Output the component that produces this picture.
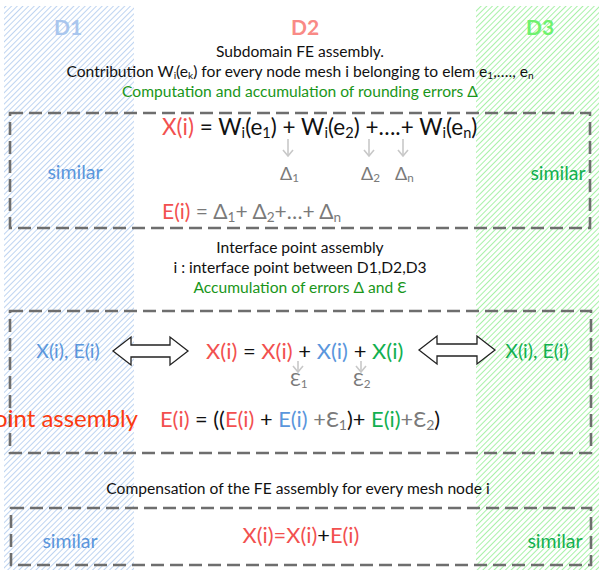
import React from "react";

const RED = "#f2504f";
const BLUE = "#5a96dc";
const GREEN = "#12b050";
const DKGREEN = "#1a961a";
const BLACK = "#111";
const GREY = "#7a7a7a";

type Seg = { t: string; c?: string; sub?: boolean };

const headerLabels = [
  { t: "D1", x: 68, c: "#a9c6ee" },
  { t: "D2", x: 305, c: "#f98a86" },
  { t: "D3", x: 540, c: "#6ef26e" },
];

const section1: Seg[][] = [
  [{ t: "Subdomain FE assembly." }],
  [{ t: "Contribution W" }, { t: "i", sub: true }, { t: "(e" }, { t: "k", sub: true }, { t: ") for every node mesh i belonging to elem e" }, { t: "1", sub: true }, { t: ",…., e" }, { t: "n", sub: true }],
  [{ t: "Computation and accumulation of rounding errors Δ", c: DKGREEN }],
];
const section2: Seg[][] = [
  [{ t: "Interface point assembly" }],
  [{ t: "i : interface point between D1,D2,D3" }],
  [{ t: "Accumulation of errors  Δ and Ɛ", c: DKGREEN }],
];
const section3: Seg[][] = [[{ t: "Compensation of the FE assembly for every mesh node i" }]];

const eqX1: Seg[] = [
  { t: "X(i)", c: RED }, { t: " = W" }, { t: "i", sub: true }, { t: "(e" }, { t: "1", sub: true }, { t: ") + W" }, { t: "i", sub: true }, { t: "(e" }, { t: "2", sub: true }, { t: ") +….+ W" }, { t: "i", sub: true }, { t: "(e" }, { t: "n", sub: true }, { t: ")" },
];
const eqE1: Seg[] = [
  { t: "E(i)", c: RED }, { t: " = Δ", c: GREY }, { t: "1", c: GREY, sub: true }, { t: "+ Δ", c: GREY }, { t: "2", c: GREY, sub: true }, { t: "+…+ Δ", c: GREY }, { t: "n", c: GREY, sub: true },
];
const deltas = [
  { s: "1", x: 288 },
  { s: "2", x: 369 },
  { s: "n", x: 403 },
];
const eqX2: Seg[] = [
  { t: "X(i)", c: RED }, { t: " = " }, { t: "X(i)", c: RED }, { t: " + " }, { t: "X(i)", c: BLUE }, { t: " + " }, { t: "X(i)", c: GREEN },
];
const eqE2: Seg[] = [
  { t: "E(i)", c: RED }, { t: " = ((" }, { t: "E(i)", c: RED }, { t: " + " }, { t: "E(i)", c: BLUE }, { t: " +Ɛ", c: GREY }, { t: "1", c: GREY, sub: true }, { t: ")+ " }, { t: "E(i)", c: GREEN }, { t: "+Ɛ", c: GREY }, { t: "2", c: GREY, sub: true }, { t: ")" },
];
const epsilons = [
  { s: "1", x: 298 },
  { s: "2", x: 361 },
];
const eqX3: Seg[] = [{ t: "X(i)=X(i)", c: RED }, { t: "+" }, { t: "E(i)", c: RED }];

function Rich({ segs, x, y, size, anchor = "start", fill = BLACK }: { segs: Seg[]; x: number; y: number; size: number; anchor?: string; fill?: string }) {
  const out: React.ReactNode[] = [];
  let shifted = false;
  const sh = Math.round(size * 0.12);
  segs.forEach((s, i) => {
    let dy = 0;
    if (s.sub && !shifted) { dy = sh; shifted = true; }
    else if (!s.sub && shifted) { dy = -sh; shifted = false; }
    out.push(
      <tspan key={i} dy={dy || undefined} fill={s.c || fill} fontSize={s.sub ? size * 0.65 : size}>
        {s.t}
      </tspan>
    );
  });
  return (
    <text x={x} y={y} textAnchor={anchor as any} fontSize={size}>
      {out}
    </text>
  );
}

function DoubleArrow({ x1, x2, y }: { x1: number; x2: number; y: number }) {
  const hw = 14, sw = 6, hl = 18;
  const d = `M${x1},${y} L${x1 + hl},${y - hw} L${x1 + hl},${y - sw} L${x2 - hl},${y - sw} L${x2 - hl},${y - hw} L${x2},${y} L${x2 - hl},${y + hw} L${x2 - hl},${y + sw} L${x1 + hl},${y + sw} L${x1 + hl},${y + hw} Z`;
  return <path d={d} fill="#fff" stroke="#222" strokeWidth={1.3} strokeLinejoin="miter" />;
}

function DownArrow({ x, y1, y2 }: { x: number; y1: number; y2: number }) {
  return (
    <g stroke="#c8c8c8" strokeWidth={1.6} fill="none">
      <line x1={x} y1={y1} x2={x} y2={y2} />
      <polyline points={`${x - 5},${y2 - 6} ${x},${y2} ${x + 5},${y2 - 6}`} />
    </g>
  );
}

export default function App() {
  const W = 599, H = 570;
  const boxes = [
    { x: 10, y: 113, w: 580, h: 115 },
    { x: 10, y: 311, w: 581, h: 142 },
    { x: 11, y: 508, w: 580, h: 57 },
  ];
  const font = "Lato, 'Open Sans', sans-serif";
  return (
    <svg width={W} height={H} style={{ position: "absolute", left: 0, top: 0, fontFamily: font }}>
      <defs>
        <pattern id="hb" width="4" height="4" patternUnits="userSpaceOnUse" patternTransform="rotate(45)">
          <rect width="4" height="4" fill="#ffffff" />
          <line x1="0" y1="0" x2="0" y2="4" stroke="#aecaee" strokeWidth="1.6" />
        </pattern>
        <pattern id="hg" width="4" height="4" patternUnits="userSpaceOnUse" patternTransform="rotate(45)">
          <rect width="4" height="4" fill="#ffffff" />
          <line x1="0" y1="0" x2="0" y2="4" stroke="#9ef09e" strokeWidth="1.8" />
        </pattern>
      </defs>
      <rect x={0} y={0} width={W} height={H} fill="#fff" />
      <rect x={4} y={6} width={130} height={564} fill="url(#hb)" />
      <rect x={476} y={6} width={123} height={564} fill="url(#hg)" />

      {headerLabels.map((h) => (
        <text key={h.t} x={h.x} y={35} textAnchor="middle" fontWeight="bold" fontSize={21} fill={h.c}>
          {h.t}
        </text>
      ))}

      {section1.map((s, i) => (
        <Rich key={i} segs={s} x={300} y={57 + i * 20} size={15.6} anchor="middle" />
      ))}
      {section2.map((s, i) => (
        <Rich key={i} segs={s} x={300} y={253 + i * 20} size={15.6} anchor="middle" />
      ))}
      {section3.map((s, i) => (
        <Rich key={i} segs={s} x={298} y={494} size={15.6} anchor="middle" />
      ))}

      {boxes.map((b, i) => (
        <rect key={i} x={b.x} y={b.y} width={b.w} height={b.h} fill="none" stroke="#6e6e6e" strokeWidth={2.6} strokeDasharray="13 6" />
      ))}

      {/* Box 1 */}
      <Rich segs={eqX1} x={162} y={135} size={22.5} />
      {deltas.map((d) => (
        <DownArrow key={d.s} x={d.x} y1={139} y2={156} />
      ))}
      {deltas.map((d) => (
        <Rich key={d.s} segs={[{ t: "Δ" }, { t: d.s, sub: true }]} x={d.x - 8} y={180} size={18} fill={GREY} />
      ))}
      <Rich segs={eqE1} x={162} y={219} size={21} />
      <text x={75} y={179} textAnchor="middle" fontSize={19.5} fill={BLUE}>similar</text>
      <text x={558} y={180} textAnchor="middle" fontSize={19.5} fill={GREEN}>similar</text>

      {/* Box 2 */}
      <text x={68} y={358} textAnchor="middle" fontSize={19.5} fill={BLUE}>X(i), E(i)</text>
      <DoubleArrow x1={113} x2={188} y={351} />
      <Rich segs={eqX2} x={206} y={359} size={22} />
      {epsilons.map((e) => (
        <DownArrow key={e.s} x={e.x} y1={361} y2={372} />
      ))}
      {epsilons.map((e) => (
        <Rich key={e.s} segs={[{ t: "Ɛ" }, { t: e.s, sub: true }]} x={e.x - 8} y={386} size={18} fill={GREY} />
      ))}
      <DoubleArrow x1={419} x2={495} y={350} />
      <text x={537} y={358} textAnchor="middle" fontSize={19.5} fill={GREEN}>X(i), E(i)</text>
      <text x={138} y={427} textAnchor="end" fontSize={24} fill="#fb3a10">point assembly</text>
      <Rich segs={eqE2} x={160} y={427} size={21.8} />

      {/* Box 3 */}
      <text x={70} y={548} textAnchor="middle" fontSize={19.5} fill={BLUE}>similar</text>
      <Rich segs={eqX3} x={301} y={543} size={21.8} anchor="middle" />
      <text x={555} y={548} textAnchor="middle" fontSize={19.5} fill={GREEN}>similar</text>
    </svg>
  );
}
